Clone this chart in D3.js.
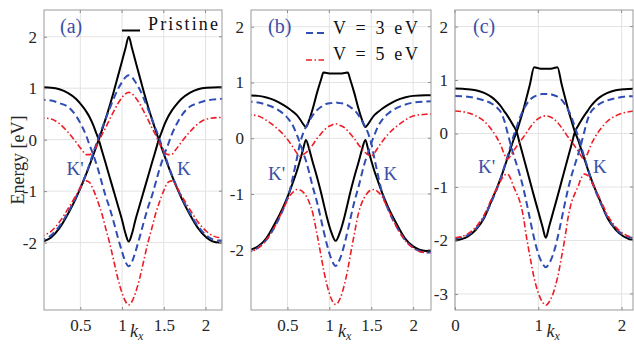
<!DOCTYPE html>
<html><head><meta charset="utf-8">
<script src="https://cdn.jsdelivr.net/npm/d3@7"></script>
<style>body{margin:0;background:#fff;overflow:hidden}
svg text{font-family:"Liberation Serif","Tinos","Nimbus Roman","Times New Roman",Times,"DejaVu Serif",serif;}
</style>
</head><body>
<svg id="chart" width="634" height="344"></svg>
<script>
// ---------------- data ----------------
const seriesNames = ["Pristine", "V = 3 eV", "V = 5 eV"];
const panelLabels = ["(a)", "(b)", "(c)"];
const xTickLabelsAB = ["0.5", "1", "1.5", "2"];
const xTicksAB = [0.5, 1, 1.5, 2];
const xTicksC = [0, 1, 2];
const xTickLabelsC = ["0", "1", "2"];
const yTicksAB = [-2, -1, 0, 1, 2];
const yTicksC = [-3, -2, -1, 0, 1, 2];

// panel (a)
const kxA = [0,0.15,0.25,0.35,0.45,0.52,0.57,0.61,0.65,0.69,0.72,0.76,0.8,0.85,0.9,0.95,1.0,1.04,1.08,
             1.12,1.16,1.21,1.26,1.31,1.36,1.40,1.44,1.47,1.51,1.55,1.59,1.64,1.71,1.81,1.91,2.01,2.16,2.25];
const aPristine1 = [1.02,1.01,0.98,0.91,0.79,0.66,0.55,0.44,0.30,0.13,0.0,-0.22,-0.44,-0.72,-1.0,-1.28,-1.56,-1.82,-1.98,
                    -1.82,-1.56,-1.28,-1.0,-0.72,-0.44,-0.22,0.0,0.13,0.30,0.44,0.55,0.66,0.79,0.91,0.98,1.01,1.02,1.02];
const aPristine2 = [-2.0,-1.90,-1.72,-1.45,-1.13,-0.87,-0.67,-0.50,-0.32,-0.14,0.0,0.19,0.39,0.65,0.93,1.23,1.53,1.77,2.0,
                    1.77,1.53,1.23,0.93,0.65,0.39,0.19,0.0,-0.14,-0.32,-0.50,-0.67,-0.87,-1.13,-1.45,-1.72,-1.90,-2.0,-2.0];
const aV3band1 = [0.78,0.76,0.71,0.64,0.46,0.26,0.08,-0.10,-0.27,-0.46,-0.62,-0.85,-1.08,-1.32,-1.60,-1.90,-2.18,-2.37,-2.46,
                  -2.37,-2.18,-1.90,-1.60,-1.32,-1.08,-0.85,-0.62,-0.46,-0.27,-0.10,0.08,0.26,0.46,0.64,0.71,0.76,0.79,0.80];
const aV3band2 = [-1.96,-1.86,-1.68,-1.42,-1.11,-0.86,-0.66,-0.48,-0.28,-0.09,0.05,0.22,0.39,0.60,0.80,0.98,1.12,1.21,1.25,
                  1.21,1.12,0.98,0.80,0.60,0.39,0.22,0.05,-0.09,-0.28,-0.48,-0.66,-0.86,-1.11,-1.42,-1.68,-1.86,-1.96,-1.96];
const aV5band1 = [0.43,0.40,0.31,0.15,-0.05,-0.20,-0.29,-0.29,-0.25,-0.14,-0.04,0.10,0.22,0.39,0.55,0.70,0.82,0.89,0.92,
                  0.89,0.82,0.70,0.55,0.39,0.22,0.10,-0.04,-0.14,-0.25,-0.29,-0.29,-0.20,-0.05,0.15,0.31,0.40,0.43,0.43];
const aV5band2 = [-1.88,-1.78,-1.60,-1.35,-1.08,-0.88,-0.80,-0.83,-0.95,-1.11,-1.25,-1.45,-1.70,-2.00,-2.35,-2.70,-2.98,-3.14,-3.21,
                  -3.14,-2.98,-2.70,-2.35,-2.00,-1.70,-1.45,-1.25,-1.11,-0.95,-0.83,-0.80,-0.88,-1.08,-1.35,-1.60,-1.78,-1.90,-1.90];

// panel (b)
const kxB = [0,0.15,0.25,0.35,0.45,0.52,0.57,0.61,0.65,0.69,0.72,0.76,0.8,0.85,0.9,0.93,0.97,1.02,1.075,
             1.13,1.18,1.22,1.25,1.30,1.35,1.39,1.43,1.46,1.50,1.54,1.58,1.63,1.70,1.80,1.90,2.00,2.15,2.3];
const bPristine1 = [0.77,0.76,0.73,0.68,0.60,0.53,0.47,0.42,0.34,0.25,0.20,0.33,0.52,0.80,1.05,1.18,1.17,1.16,1.16,
                    1.16,1.17,1.18,1.05,0.80,0.52,0.33,0.20,0.25,0.34,0.42,0.47,0.53,0.60,0.68,0.73,0.76,0.77,0.77];
const bPristine2 = [-2.02,-1.94,-1.79,-1.53,-1.23,-0.98,-0.77,-0.60,-0.40,-0.18,-0.03,-0.20,-0.42,-0.68,-0.97,-1.16,-1.41,-1.67,-1.84,
                    -1.67,-1.41,-1.16,-0.97,-0.68,-0.42,-0.20,-0.03,-0.18,-0.40,-0.60,-0.77,-0.98,-1.23,-1.53,-1.79,-1.94,-2.02,-2.02];
const bV3band1 = [0.66,0.64,0.60,0.54,0.44,0.33,0.21,0.07,-0.09,-0.27,-0.40,-0.62,-0.86,-1.13,-1.45,-1.65,-1.90,-2.15,-2.29,
                  -2.15,-1.90,-1.65,-1.45,-1.13,-0.86,-0.62,-0.40,-0.27,-0.09,0.07,0.21,0.33,0.44,0.54,0.60,0.64,0.66,0.67];
const bV3band2 = [-2.05,-1.96,-1.82,-1.58,-1.27,-0.98,-0.66,-0.38,-0.09,0.10,0.20,0.31,0.41,0.50,0.56,0.59,0.62,0.63,0.64,
                  0.63,0.62,0.59,0.56,0.50,0.41,0.31,0.20,0.10,-0.09,-0.38,-0.66,-0.98,-1.27,-1.58,-1.82,-1.96,-2.05,-2.05];
const bV5band1 = [0.43,0.40,0.32,0.21,0.07,-0.06,-0.17,-0.26,-0.32,-0.29,-0.26,-0.19,-0.12,-0.01,0.08,0.13,0.19,0.23,0.26,
                  0.23,0.19,0.13,0.08,-0.01,-0.12,-0.19,-0.26,-0.29,-0.32,-0.26,-0.17,-0.06,0.07,0.21,0.32,0.40,0.43,0.44];
const bV5band2 = [-2.05,-1.97,-1.82,-1.58,-1.27,-1.05,-0.96,-0.92,-0.93,-0.97,-1.03,-1.15,-1.33,-1.70,-2.10,-2.35,-2.62,-2.87,-2.98,
                  -2.87,-2.62,-2.35,-2.10,-1.70,-1.33,-1.15,-1.03,-0.97,-0.93,-0.92,-0.96,-1.05,-1.27,-1.58,-1.82,-1.97,-2.05,-2.05];

// panel (c)
const kxC = [0,0.15,0.25,0.35,0.44,0.5,0.55,0.59,0.63,0.67,0.7,0.74,0.78,0.82,0.86,0.9,0.95,1.0,1.05,1.09,
             1.13,1.18,1.23,1.28,1.32,1.36,1.40,1.44,1.48,1.51,1.55,1.59,1.63,1.68,1.74,1.83,1.93,2.03,2.18,2.3];
const cPristine1 = [0.84,0.83,0.81,0.76,0.68,0.60,0.51,0.42,0.33,0.23,0.15,0.03,-0.20,-0.43,-0.66,-0.89,-1.18,-1.46,-1.74,-1.95,
                    -1.74,-1.46,-1.18,-0.89,-0.66,-0.43,-0.20,0.03,0.15,0.23,0.33,0.42,0.51,0.60,0.68,0.76,0.81,0.83,0.84,0.84];
const cPristine2 = [-2.0,-1.93,-1.80,-1.58,-1.25,-1.03,-0.83,-0.65,-0.46,-0.27,-0.13,0.03,0.23,0.44,0.68,0.92,1.24,1.22,1.21,1.21,
                    1.21,1.22,1.24,0.92,0.68,0.44,0.23,0.03,-0.13,-0.27,-0.46,-0.65,-0.83,-1.03,-1.25,-1.58,-1.80,-1.93,-2.0,-2.0];
const cV3band1 = [0.70,0.69,0.66,0.62,0.56,0.49,0.40,0.25,0.02,-0.22,-0.38,-0.58,-0.78,-1.02,-1.30,-1.60,-1.96,-2.25,-2.43,-2.50,
                  -2.43,-2.25,-1.96,-1.60,-1.30,-1.02,-0.78,-0.58,-0.38,-0.22,0.02,0.25,0.40,0.49,0.56,0.62,0.66,0.69,0.70,0.70];
const cV3band2 = [-1.96,-1.90,-1.78,-1.56,-1.27,-1.05,-0.83,-0.63,-0.43,-0.22,-0.06,0.12,0.30,0.44,0.55,0.63,0.69,0.72,0.74,0.74,
                  0.74,0.72,0.69,0.63,0.55,0.44,0.30,0.12,-0.06,-0.22,-0.43,-0.63,-0.83,-1.05,-1.27,-1.56,-1.78,-1.90,-1.96,-1.96];
const cV5band1 = [0.42,0.39,0.33,0.23,0.07,-0.07,-0.22,-0.38,-0.48,-0.41,-0.33,-0.24,-0.15,-0.07,0.02,0.11,0.21,0.28,0.32,0.33,
                  0.32,0.28,0.21,0.11,0.02,-0.07,-0.15,-0.24,-0.33,-0.41,-0.48,-0.38,-0.22,-0.07,0.07,0.23,0.33,0.39,0.42,0.42];
const cV5band2 = [-1.95,-1.88,-1.75,-1.52,-1.22,-1.03,-0.88,-0.78,-0.76,-0.85,-0.98,-1.12,-1.28,-1.55,-1.95,-2.30,-2.70,-2.98,-3.15,-3.21,
                  -3.15,-2.98,-2.70,-2.30,-1.95,-1.55,-1.28,-1.12,-0.98,-0.85,-0.76,-0.78,-0.88,-1.03,-1.22,-1.52,-1.75,-1.88,-1.95,-1.95];

// ---------------- styles ----------------
const BLUE_TXT = "#3b4fa8";
const styles = {
  "Pristine": {stroke: "#000000", width: 2.0, dash: null},
  "V = 3 eV": {stroke: "#2f4db3", width: 2.0, dash: "7,4"},
  "V = 5 eV": {stroke: "#ee1c25", width: 1.6, dash: "6,2.5,1.5,2.5"}
};

const panels = [
  {kx: kxA, bands: [[aPristine1, aPristine2], [aV3band1, aV3band2], [aV5band1, aV5band2]],
   left: 44, right: 222, xdom: [0.065, 2.197], ydom: [-3.31, 2.52],
   xticks: xTicksAB, xlabels: xTickLabelsAB, yticks: yTicksAB,
   label: panelLabels[0], labelX: 60, kLabelX: 130, kp: [66.5, 175], k: [177, 175]},
  {kx: kxB, bands: [[bPristine1, bPristine2], [bV3band1, bV3band2], [bV5band1, bV5band2]],
   left: 251, right: 431, xdom: [0.065, 2.213], ydom: [-3.08, 2.30],
   xticks: xTicksAB, xlabels: xTickLabelsAB, yticks: yTicksAB,
   label: panelLabels[1], labelX: 268, kLabelX: 338, kp: [268, 180], k: [383.5, 180]},
  {kx: kxC, bands: [[cPristine1, cPristine2], [cV3band1, cV3band2], [cV5band1, cV5band2]],
   left: 455, right: 633, xdom: [0, 2.137], ydom: [-3.30, 2.31],
   xticks: xTicksC, xlabels: xTickLabelsC, yticks: yTicksC,
   label: panelLabels[2], labelX: 473, kLabelX: 546.5, kp: [478, 173], k: [593, 173]}
];

const TOP = 10, BOTTOM = 310;
const svg = d3.select("#chart");
const defs = svg.append("defs");

panels.forEach((p, i) => {
  const x = d3.scaleLinear().domain(p.xdom).range([p.left, p.right]);
  const y = d3.scaleLinear().domain(p.ydom).range([BOTTOM, TOP]);
  const g = svg.append("g");

  // grid
  g.append("g").selectAll("line").data(p.xticks).join("line")
    .attr("x1", d => x(d)).attr("x2", d => x(d)).attr("y1", TOP).attr("y2", BOTTOM)
    .attr("stroke", "#e3e3e3").attr("stroke-width", 1);
  g.append("g").selectAll("line").data(p.yticks).join("line")
    .attr("x1", p.left).attr("x2", p.right).attr("y1", d => y(d)).attr("y2", d => y(d))
    .attr("stroke", "#e3e3e3").attr("stroke-width", 1);

  // curves
  const clipId = "clip" + i;
  defs.append("clipPath").attr("id", clipId).append("rect")
    .attr("x", p.left).attr("y", TOP).attr("width", p.right - p.left).attr("height", BOTTOM - TOP);
  const line = d3.line().x(d => x(d[0])).y(d => y(d[1])).curve(d3.curveMonotoneX);
  const cg = g.append("g").attr("clip-path", `url(#${clipId})`);
  p.bands.forEach((pair, si) => {
    const st = styles[seriesNames[si]];
    pair.forEach(vals => {
      cg.append("path").datum(p.kx.map((k, j) => [k, vals[j]]))
        .attr("d", line).attr("fill", "none")
        .attr("stroke", st.stroke).attr("stroke-width", st.width)
        .attr("stroke-dasharray", st.dash)
        .attr("stroke-linejoin", "round");
    });
  });

  // axes (box, ticks, labels)
  const xAxis = d3.axisBottom(x).tickValues(p.xticks).tickFormat((d, j) => p.xlabels[j]).tickSizeInner(-3).tickSizeOuter(0).tickPadding(9);
  const yAxis = d3.axisLeft(y).tickValues(p.yticks).tickFormat(d => String(d)).tickSizeInner(-3).tickSizeOuter(0).tickPadding(7);
  const ax = g.append("g").attr("transform", `translate(0,${BOTTOM})`).call(xAxis);
  const ay = g.append("g").attr("transform", `translate(${p.left},0)`).call(yAxis);
  [ax, ay].forEach(a => {
    a.attr("font-family", null);
    a.select(".domain").remove();
    a.selectAll(".tick line").attr("stroke", "#8c8c8c");
    a.selectAll(".tick text").attr("font-size", 17).attr("fill", "#262626");
  });
  ax.selectAll(".tick text").attr("dy", "0.71em");
  // top / right ticks
  g.append("g").selectAll("line").data(p.xticks).join("line")
    .attr("x1", d => x(d)).attr("x2", d => x(d)).attr("y1", TOP).attr("y2", TOP + 3).attr("stroke", "#8c8c8c");
  g.append("g").selectAll("line").data(p.yticks).join("line")
    .attr("x1", p.right - 3).attr("x2", p.right).attr("y1", d => y(d)).attr("y2", d => y(d)).attr("stroke", "#8c8c8c");
  g.append("rect").attr("x", p.left).attr("y", TOP).attr("width", p.right - p.left).attr("height", BOTTOM - TOP)
    .attr("fill", "none").attr("stroke", "#9a9a9a").attr("stroke-width", 1);

  // panel label
  g.append("text").attr("x", p.labelX).attr("y", 33).text(p.label)
    .attr("font-size", 20).attr("fill", BLUE_TXT);
  // K labels
  g.append("text").attr("x", p.kp[0]).attr("y", p.kp[1]).text("K'")
    .attr("font-size", 19).attr("fill", BLUE_TXT);
  g.append("text").attr("x", p.k[0]).attr("y", p.k[1]).text("K")
    .attr("font-size", 19).attr("fill", BLUE_TXT);
  // x axis label k_x
  const xl = g.append("text").attr("x", p.kLabelX).attr("y", 337)
    .attr("font-size", 18).attr("fill", "#262626");
  xl.append("tspan").attr("font-style", "italic").text("k");
  xl.append("tspan").attr("font-style", "italic").attr("font-size", 12).attr("dy", 3).text("x");
});

// y axis title
svg.append("text").attr("transform", "translate(24,160) rotate(-90)")
  .attr("text-anchor", "middle").attr("font-size", 18)
  .attr("fill", "#262626").text("Energy [eV]");

// legend
const legend = [
  {name: seriesNames[0], x1: 122, x2: 140, ly: 30.5, tx: 148, ty: 30, len: 70},
  {name: seriesNames[1], x1: 306, x2: 324, ly: 33, tx: 333, ty: 33.5, len: 85},
  {name: seriesNames[2], x1: 306, x2: 324, ly: 60, tx: 333, ty: 60, len: 85}
];
legend.forEach(l => {
  const st = styles[l.name];
  svg.append("line").attr("x1", l.x1).attr("x2", l.x2).attr("y1", l.ly).attr("y2", l.ly)
    .attr("stroke", st.stroke).attr("stroke-width", st.width).attr("stroke-dasharray", st.dash);
  svg.append("text").attr("x", l.tx).attr("y", l.ty).text(l.name)
    .attr("font-size", 18).attr("fill", "#111")
    .attr("textLength", l.len).attr("lengthAdjust", "spacing");
});
</script>
</body></html>
